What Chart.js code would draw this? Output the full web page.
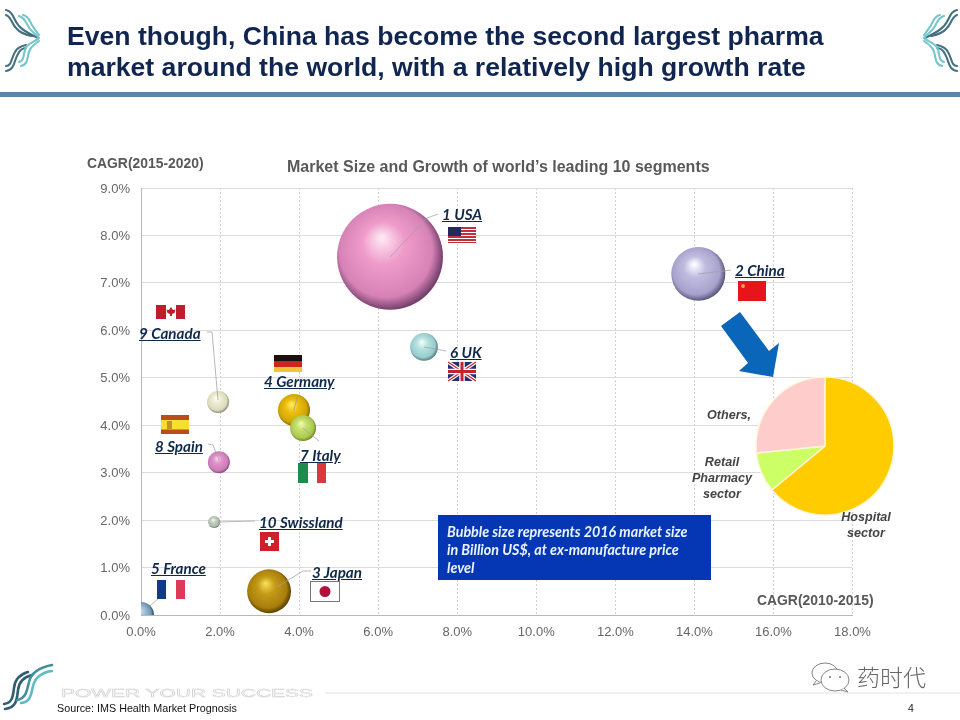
<!DOCTYPE html>
<html>
<head>
<meta charset="utf-8">
<title>Market Size and Growth</title>
<script src="https://cdn.jsdelivr.net/npm/chart.js@4"></script>
<style>
  html, body { margin: 0; padding: 0; background: #fff; }
  body { width: 960px; height: 720px; position: relative; overflow: hidden; font-family: 'Liberation Sans', Arial, sans-serif; }
  canvas, svg.layer { position: absolute; left: 0; top: 0; }
  #pieChart { left: 750px; top: 371px; }
  .t { position: absolute; white-space: nowrap; line-height: 1; }
  .title { left: 67px; font-size: 26.6px; font-weight: bold; color: #10254f; }
  .axisTitle { font-size: 13.9px; font-weight: bold; color: #595959; }
  .tag { font: italic bold 15.2px Lato, sans-serif; color: #10294a; text-decoration: underline; transform: translateY(-50%); }
  .pieTag { font-size: 12.6px; font-style: italic; font-weight: bold; color: #454545; text-align: center; line-height: 16px; white-space: pre; }
  .note { left: 447px; font: italic bold 14.3px Lato, sans-serif; color: #e9f4ff; }
</style>
</head>
<body>
<canvas id="bubbleChart" width="960" height="720"></canvas>

<svg class="layer" width="960" height="720" viewBox="0 0 960 720">
  <defs>
    <g id="knot" fill="none" stroke-linecap="round" stroke-width="2.1">
      <g stroke="#44707f">
        <path d="M6 10 C14 12 13 20 19 26 C23 31 30 34 38 38"/>
        <path d="M6 15 C12 17 11 24 17 29 C21 34 27 35 32 36"/>
        <path d="M6 71 C15 70 14 60 18 54 C20 50 23 48 26 48"/>
        <path d="M6 66 C12 66 11 58 15 52 C17 48 21 46 26 45"/>
      </g>
      <g stroke="#74c6ca">
        <path d="M19 16 C26 18 26 24 30 29 C32 32 36 34 39 38"/>
        <path d="M23 15 C30 16 30 24 34 28 C35 30 37 32 39 35"/>
        <path d="M21 66 C30 64 26 54 31 48 C33 45 36 43 39 41"/>
        <path d="M19 62 C26 60 22 52 27 46 C30 43 33 42 38 39"/>
      </g>
    </g>
  </defs>
  <use href="#knot"/>
  <use href="#knot" transform="translate(963 0) scale(-1 1)"/>
  <rect x="0" y="92" width="960" height="5" fill="#5b84a6"/>

  <!-- callout arrow -->
  <polygon points="721,326 740,312 769,351 779,343 773,377 739,371 748,363" fill="#0a66b8"/>
  <rect x="438" y="515" width="273" height="65" fill="#0537b4"/>

  <!-- leader lines -->
  <g fill="none" stroke="#a0a0a0" stroke-opacity="0.75" stroke-width="1">
    <path d="M390 257 L427 218 L438 214"/>
    <path d="M698 274 L731 270"/>
    <path d="M424 347 L446 351"/>
    <path d="M207 332 L212 332 L218 400"/>
    <path d="M294 410 L298 395"/>
    <path d="M208 444 L213 445 L219 460"/>
    <path d="M303 428 L319 441"/>
    <path d="M218 522 L255 521"/>
    <path d="M277 587 L303 571 L311 571"/>
    <path d="M150 606 L160 597"/>
  </g>

  <!-- flags -->
  <g>
    <rect x="448" y="227" width="28" height="16" fill="#c2303c"/>
    <path d="M448 229.500H476M448 232.500H476M448 235.500H476M448 238.500H476M448 241.500H476" stroke="#fff" stroke-width="1.200"/>
    <rect x="448" y="227" width="13" height="9" fill="#23285f"/>
  </g>
  <g>
    <rect x="738" y="281" width="28" height="20" fill="#e8141c"/>
    <circle cx="743" cy="286" r="2" fill="#f7a04a"/>
  </g>
  <g>
    <rect x="448" y="362" width="28" height="19" fill="#27306e"/>
    <path d="M448 362L476 381M476 362L448 381" stroke="#fff" stroke-width="3.500"/>
    <path d="M448 362L476 381M476 362L448 381" stroke="#c8202f" stroke-width="1.200"/>
    <path d="M462 362V381M448 371.500H476" stroke="#fff" stroke-width="5.500"/>
    <path d="M462 362V381M448 371.500H476" stroke="#c8202f" stroke-width="3"/>
  </g>
  <g>
    <rect x="156" y="305" width="10" height="14" fill="#bd1e2c"/>
    <rect x="176" y="305" width="9" height="14" fill="#bd1e2c"/>
    <polygon points="171,307 173,310 175.500,309.500 174.500,313 172,314 172,316 170,316 170,314 167.500,313 166.500,309.500 169,310" fill="#bd1e2c"/>
  </g>
  <g>
    <rect x="274" y="355" width="28" height="6" fill="#1c0f0f"/>
    <rect x="274" y="361" width="28" height="6" fill="#c9281e"/>
    <rect x="274" y="367" width="28" height="5" fill="#f4c33c"/>
  </g>
  <g>
    <rect x="161" y="415" width="28" height="19" fill="#b94d1c"/>
    <rect x="161" y="420" width="28" height="9.500" fill="#f5e030"/>
    <rect x="167" y="421" width="5" height="8" fill="#c09030"/>
  </g>
  <g>
    <rect x="298" y="463" width="10" height="20" fill="#1f8a4c"/>
    <rect x="317" y="463" width="9" height="20" fill="#d63a3f"/>
  </g>
  <g>
    <rect x="260" y="532" width="19" height="19" fill="#d0202a"/>
    <path d="M269.500 537V546M265 541.500H274" stroke="#fff" stroke-width="3"/>
  </g>
  <g>
    <rect x="157" y="580" width="9" height="19" fill="#123a8c"/>
    <rect x="176" y="580" width="9" height="19" fill="#dc3a56"/>
  </g>
  <g>
    <rect x="310.500" y="581.500" width="29" height="20" fill="#fff" stroke="#777"/>
    <circle cx="325" cy="591.500" r="5.500" fill="#b1123c"/>
  </g>

  <!-- footer -->
  <g fill="none" stroke-linecap="round">
    <path d="M5 709 C16 708 17 700 18 690 C19 681 24 677 32 675" stroke="#2f5f70" stroke-width="2.600"/>
    <path d="M4 704 C12 703 13 697 14 688 C15 678 21 674 28 672" stroke="#2f5f70" stroke-width="2.600"/>
    <path d="M21 703 C31 702 31 694 33 686 C35 677 43 672 52 671" stroke="#5fb9c4" stroke-width="2.600"/>
    <path d="M17 700 C26 699 27 690 29 682 C31 672 42 667 52 665" stroke="#3f8fa0" stroke-width="2.600"/>
  </g>
  <text x="61" y="697" font-family="Liberation Sans" font-size="11" fill="none" stroke="#d2d2d2" stroke-width="0.5" textLength="252" lengthAdjust="spacingAndGlyphs">POWER YOUR SUCCESS</text>
  <line x1="325" y1="693" x2="960" y2="693" stroke="#e2e2e2"/>
  <g fill="#fff" stroke="#777" stroke-width="0.9">
    <ellipse cx="825" cy="673" rx="13" ry="10"/>
    <path d="M816 681 L813 685 L820 683"/>
    <ellipse cx="835" cy="680" rx="14" ry="11"/>
    <path d="M844 688 L848 692 L841 690"/>
  </g>
  <circle cx="830" cy="677" r="1" fill="#777"/>
  <circle cx="840" cy="677" r="1" fill="#777"/>
</svg>

<canvas id="pieChart" width="150" height="150"></canvas>

<div class="t title" style="top:23px">Even though, China has become the second largest pharma</div>
<div class="t title" style="top:54px">market around the world, with a relatively high growth rate</div>
<div class="t axisTitle" style="left:87px;top:157px">CAGR(2015-2020)</div>
<div class="t axisTitle" style="left:757px;top:594px">CAGR(2010-2015)</div>
<div class="t" style="left:287px;top:159px;font-size:16px;font-weight:bold;color:#595959">Market Size and Growth of world’s leading 10 segments</div>

<div class="t tag" style="left:442px;top:214px">1 USA</div>
<div class="t tag" style="left:735px;top:270px">2 China</div>
<div class="t tag" style="left:450px;top:352px">6 UK</div>
<div class="t tag" style="left:139px;top:333px">9 Canada</div>
<div class="t tag" style="left:264px;top:381px">4 Germany</div>
<div class="t tag" style="left:155px;top:446px">8 Spain</div>
<div class="t tag" style="left:300px;top:455px">7 Italy</div>
<div class="t tag" style="left:259px;top:522px">10 Swissland</div>
<div class="t tag" style="left:151px;top:568px">5 France</div>
<div class="t tag" style="left:312px;top:572px">3 Japan</div>

<div class="t pieTag" style="left:707px;top:407px">Others,</div>
<div class="t pieTag" style="left:682px;top:454px;width:80px">Retail
Pharmacy
sector</div>
<div class="t pieTag" style="left:826px;top:509px;width:80px">Hospital
sector</div>

<div class="t note" style="top:523px">Bubble size represents 2016 market size</div>
<div class="t note" style="top:541px">in Billion US$, at ex-manufacture price</div>
<div class="t note" style="top:559px">level</div>

<div class="t" style="left:57px;top:703px;font-size:10.75px;color:#111">Source: IMS Health Market Prognosis</div>
<div class="t" style="left:908px;top:703px;font-size:10.5px;color:#222">4</div>
<div class="t" style="left:857px;top:659px;font:300 23px 'Noto Sans CJK SC';color:#666">药时代</div>

<script>
// x = CAGR 2010-2015, y = CAGR 2015-2020, size = 2016 market in bn US$
const countries = ['USA', 'China', 'Japan', 'Germany', 'France', 'UK', 'Italy', 'Spain', 'Canada', 'Swissland'];
const cagrPast = [6.3, 14.1, 3.24, 3.87, 0, 7.16, 4.1, 1.97, 1.95, 1.85];
const cagrNext = [7.55, 7.19, 0.5, 4.32, 0, 5.65, 3.94, 3.22, 4.49, 1.96];
const marketSize = [350, 91, 60, 32, 21, 24, 21, 15, 15, 4.5];

const xTickLabels = ['0.0%', '2.0%', '4.0%', '6.0%', '8.0%', '10.0%', '12.0%', '14.0%', '16.0%', '18.0%'];
const yTickLabels = ['0.0%', '1.0%', '2.0%', '3.0%', '4.0%', '5.0%', '6.0%', '7.0%', '8.0%', '9.0%'];

const channels = ['Hospital sector', 'Retail Pharmacy sector', 'Others'];
const channelShare = [64, 9.4, 26.6];

// highlight, body, shade, rim
const BALL_COLORS = [
  ['#fde4f0', '#ef9ccb', '#d682b6', '#75406c'],
  ['#fbfbff', '#c0bce0', '#a6a2cc', '#5a5680'],
  ['#f6dc50', '#c49a18', '#a87e0c', '#5a4000'],
  ['#ffec60', '#ecc00e', '#d2a404', '#8a6a00'],
  ['#d8e8f3', '#a0c2da', '#6f94b2', '#1f3a56'],
  ['#eefcfb', '#b6e2e0', '#98cccc', '#527f82'],
  ['#f0f9ac', '#c6e070', '#acc850', '#6c8a20'],
  ['#f8cfe8', '#e090ca', '#cc7cb6', '#8b4c82'],
  ['#fffff4', '#eeecd2', '#dcdabc', '#8e8e74'],
  ['#f5f8f2', '#c6d0c2', '#acb8a8', '#5f705f'],
];

const PX_PER_SQRT = 2.83;

function ballFill(ctx) {
  const chart = ctx.chart;
  const c = BALL_COLORS[ctx.dataIndex];
  if (!chart.chartArea || !ctx.raw) return c[1];
  const px = chart.scales.x.getPixelForValue(ctx.raw.x);
  const py = chart.scales.y.getPixelForValue(ctx.raw.y);
  const r = ctx.raw.r;
  const g = chart.ctx.createRadialGradient(
    px - r * 0.16, py - r * 0.36, r * 0.04,
    px - r * 0.06, py - r * 0.06, r * 1.06
  );
  g.addColorStop(0, c[0]);
  g.addColorStop(0.35, c[1]);
  g.addColorStop(0.82, c[2]);
  g.addColorStop(1, c[3]);
  return g;
}

new Chart(document.getElementById('bubbleChart').getContext('2d'), {
  type: 'bubble',
  data: {
    labels: countries,
    datasets: [
      {
        label: 'Market size',
        data: countries.map((c, i) => ({
          x: cagrPast[i],
          y: cagrNext[i],
          r: PX_PER_SQRT * Math.sqrt(marketSize[i]),
        })),
        backgroundColor: ballFill,
        borderWidth: 0,
        hoverBorderWidth: 0,
        clip: 0,
      },
    ],
  },
  options: {
    responsive: false,
    animation: false,
    layout: { padding: { top: 188, right: 107.5, left: 0, bottom: 0 } },
    plugins: { legend: { display: false }, tooltip: { enabled: false } },
    scales: {
      x: {
        min: 0,
        max: 18,
        afterFit: (s) => { s.height = 105; },
        grid: { color: '#cfcfd4', drawTicks: false },
        border: { color: '#b8b8b8', dash: [2, 2] },
        ticks: {
          stepSize: 2,
          padding: 10,
          color: '#666',
          maxRotation: 0,
          font: { family: 'Liberation Sans', size: 13 },
          callback: (v, i) => xTickLabels[i],
        },
      },
      y: {
        min: 0,
        max: 9,
        afterFit: (s) => { s.width = 141; },
        grid: { color: '#dcdce0', drawTicks: false },
        border: { color: '#b8b8b8' },
        ticks: {
          stepSize: 1,
          padding: 11,
          labelOffset: 1,
          color: '#666',
          font: { family: 'Liberation Sans', size: 13 },
          callback: (v, i) => yTickLabels[i],
        },
      },
    },
  },
});

new Chart(document.getElementById('pieChart').getContext('2d'), {
  type: 'pie',
  data: {
    labels: channels,
    datasets: [
      {
        data: channelShare,
        backgroundColor: ['#ffcc00', '#ccff66', '#ffcccc'],
        borderColor: '#fff6d8',
        borderWidth: 1.5,
        radius: 69,
      },
    ],
  },
  options: {
    responsive: false,
    animation: false,
    plugins: { legend: { display: false }, tooltip: { enabled: false } },
  },
});
</script>
</body>
</html>
